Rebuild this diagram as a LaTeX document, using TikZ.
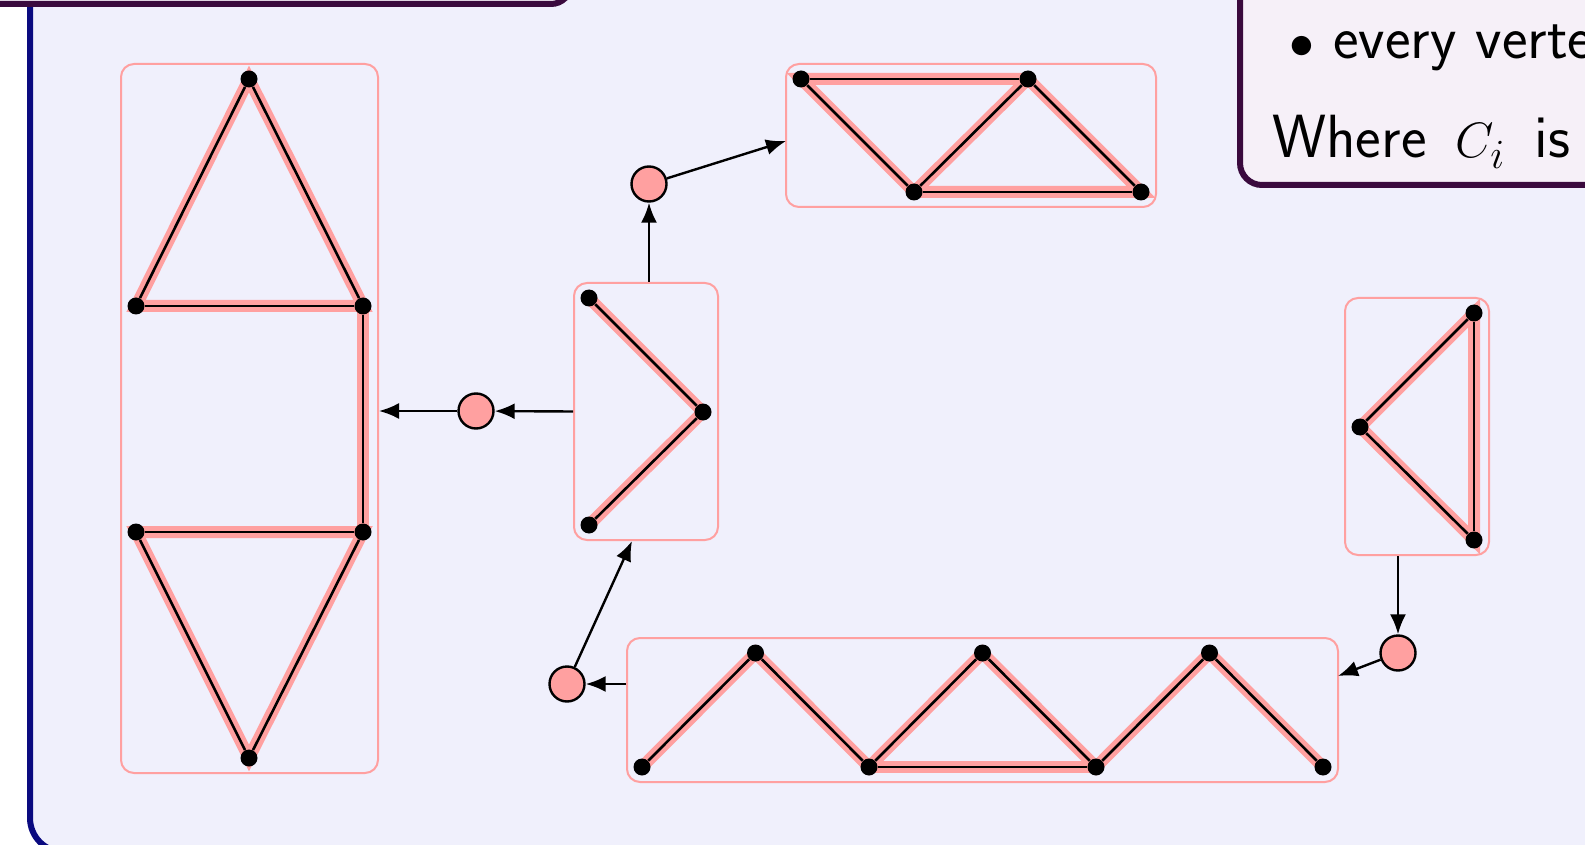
\documentclass[tikz,border=0pt]{standalone}
\usetikzlibrary{arrows.meta,fit}
\definecolor{lav}{RGB}{240,240,252}
\definecolor{navyf}{RGB}{10,10,128}
\definecolor{purp}{RGB}{58,10,62}
\definecolor{boxfill}{RGB}{246,240,248}
\definecolor{pinkc}{RGB}{255,160,160}
\pgfdeclarelayer{bg}
\pgfsetlayers{bg,main}
\begin{document}
\begin{tikzpicture}[x=0.5pt,y=-0.5pt,
  vtx/.style={circle,fill=black,inner sep=0pt,minimum size=8.5pt},
  hub/.style={circle,draw=black,fill=pinkc,line width=1.2pt,inner sep=0pt,minimum size=17.5pt},
  compbox/.style={draw=pinkc,line width=1pt,rounded corners=6.5pt,inner sep=7.5pt},
  hl/.style={draw=pinkc,line width=6pt,line join=miter},
  edge/.style={draw=black,line width=1.3pt},
  arr/.style={draw=black,line width=1.2pt,-{Latex[length=10pt,width=8pt]}},
  txt/.style={font=\sffamily\fontsize{30.5}{36}\selectfont,anchor=base west,inner sep=0pt}]
\useasboundingbox (0,0) rectangle (1585,845);
\clip (0,0) rectangle (1585,845);
% vertices
\node[vtx] (A1) at (249,79) {};
\node[vtx] (A2) at (136,306) {};
\node[vtx] (A3) at (363,306) {};
\node[vtx] (A4) at (136,532) {};
\node[vtx] (A5) at (363,532) {};
\node[vtx] (A6) at (249,758) {};
\node[vtx] (B1) at (589,298) {};
\node[vtx] (B2) at (703,412) {};
\node[vtx] (B3) at (589,525) {};
\node[vtx] (C1) at (801,79) {};
\node[vtx] (C2) at (1028,79) {};
\node[vtx] (C3) at (914,192) {};
\node[vtx] (C4) at (1141,192) {};
\node[vtx] (D1) at (1474,313) {};
\node[vtx] (D2) at (1360,427) {};
\node[vtx] (D3) at (1474,540) {};
\node[vtx] (E1) at (642,767) {};
\node[vtx] (E2) at (755.5,653) {};
\node[vtx] (E3) at (869,767) {};
\node[vtx] (E4) at (982.5,653) {};
\node[vtx] (E5) at (1096,767) {};
\node[vtx] (E6) at (1209.5,653) {};
\node[vtx] (E7) at (1323,767) {};
\begin{pgfonlayer}{bg}
\fill[white] (0,0) rectangle (1585,845);
\draw[navyf,line width=3pt,fill=lav,rounded corners=17pt] (30,-100) rectangle (1800,852);
\draw[purp,line width=3pt,fill=boxfill,rounded corners=10pt] (-100,-100) rectangle (571,4);
\draw[purp,line width=3pt,fill=boxfill,rounded corners=11pt] (1240,-100) rectangle (1800,185);
\node[txt] (t1) at (1289,59) {$\bullet$ every verte};
\node[txt] (t2) at (1272,158) {Where\hspace{5pt} $C_i$\hspace{5pt} is};
% component boxes
\node[compbox,fit=(A1.center)(A2.center)(A3.center)(A6.center)] (L) {};
\node[compbox,fit=(B1.center)(B2.center)(B3.center)] (M) {};
\node[compbox,fit=(C1.center)(C2.center)(C3.center)(C4.center)] (T) {};
\node[compbox,fit=(D1.center)(D2.center)(D3.center)] (R) {};
\node[compbox,fit=(E1.center)(E2.center)(E7.center)] (B) {};
% highlights
\draw[hl] (A2.center) -- (A1.center) -- (A3.center) -- cycle;
\draw[hl] (A3.center) -- (A5.center);
\draw[hl] (A4.center) -- (A5.center) -- (A6.center) -- cycle;
\draw[hl] (B1.center) -- (B2.center) -- (B3.center);
\draw[hl] (C1.center) -- (C2.center) -- (C4.center) -- (C3.center) -- cycle;
\draw[hl] (C2.center) -- (C3.center);
\draw[hl] (D1.center) -- (D2.center) -- (D3.center) -- cycle;
\draw[hl] (E1.center) -- (E2.center) -- (E3.center) -- (E4.center) -- (E5.center) -- (E6.center) -- (E7.center);
\draw[hl] (E3.center) -- (E5.center);
% edges
\draw[edge] (A1) -- (A2); \draw[edge] (A1) -- (A3); \draw[edge] (A2) -- (A3);
\draw[edge] (A3) -- (A5); \draw[edge] (A4) -- (A5); \draw[edge] (A4) -- (A6); \draw[edge] (A5) -- (A6);
\draw[edge] (B1) -- (B2); \draw[edge] (B2) -- (B3);
\draw[edge] (C1) -- (C2); \draw[edge] (C1) -- (C3); \draw[edge] (C3) -- (C2);
\draw[edge] (C2) -- (C4); \draw[edge] (C3) -- (C4);
\draw[edge] (D1) -- (D2); \draw[edge] (D2) -- (D3); \draw[edge] (D1) -- (D3);
\draw[edge] (E1) -- (E2); \draw[edge] (E2) -- (E3); \draw[edge] (E3) -- (E4);
\draw[edge] (E4) -- (E5); \draw[edge] (E5) -- (E6); \draw[edge] (E6) -- (E7);
\draw[edge] (E3) -- (E5);
\end{pgfonlayer}
% hubs and arrows
\node[hub] (c1) at (476,411) {};
\node[hub] (c2) at (649,184) {};
\node[hub] (c3) at (1398,653) {};
\node[hub] (c4) at (567,684) {};
\coordinate (tin) at (786,141);
\coordinate (bin) at (1338,676);
\coordinate (min) at (632,541);
\draw[arr] (M.west) -- (c1);
\draw[arr] (c1) -- (c1 -| L.east);
\draw[arr] (c2 |- M.north) -- (c2);
\draw[arr] (c2) -- (tin);
\draw[arr] (c3 |- R.south) -- (c3);
\draw[arr] (c3) -- (bin);
\draw[arr] (c4 -| B.west) -- (c4);
\draw[arr] (c4) -- (min);
\end{tikzpicture}
\end{document}
